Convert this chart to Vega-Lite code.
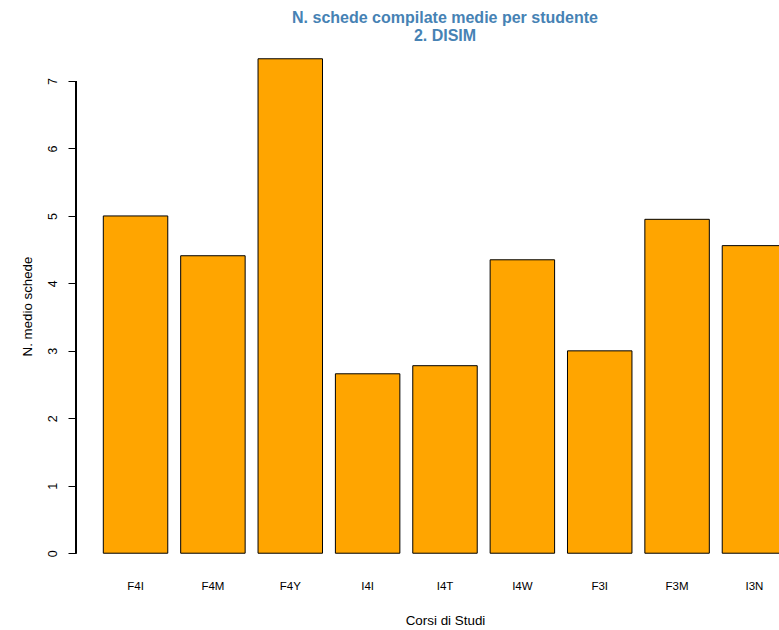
{
  "$schema": "https://vega.github.io/schema/vega-lite/v6.json",
  "width": 703,
  "height": 534,
  "autosize": {"type": "none"},
  "padding": {"left": 76, "top": 39, "right": 0, "bottom": 57},
  "background": "white",
  "view": {"stroke": null},
  "config": {
    "font": "Liberation Sans",
    "axis": {"labelFont": "Liberation Sans", "titleFont": "Liberation Sans", "labelColor": "black", "titleColor": "black", "titleFontWeight": "normal", "grid": false}
  },
  "title": {
    "text": ["N. schede compilate medie per studente", "2. DISIM"],
    "font": "Liberation Sans",
    "fontSize": 16,
    "fontWeight": "bold",
    "color": "#4682B4",
    "anchor": "middle",
    "lineHeight": 18.5,
    "baseline": "bottom",
    "offset": -21,
    "dx": 17.5
  },
  "data": {
    "values": [
      {"corso": "F4I", "media": 5.00},
      {"corso": "F4M", "media": 4.41},
      {"corso": "F4Y", "media": 7.33},
      {"corso": "I4I", "media": 2.66},
      {"corso": "I4T", "media": 2.78},
      {"corso": "I4W", "media": 4.35},
      {"corso": "F3I", "media": 3.00},
      {"corso": "F3M", "media": 4.95},
      {"corso": "I3N", "media": 4.56}
    ]
  },
  "layer": [
    {
      "mark": {"type": "bar", "color": "#FFA500", "stroke": "black", "strokeWidth": 1, "clip": true},
      "encoding": {
        "x": {
          "field": "corso",
          "type": "nominal",
          "sort": null,
          "scale": {"range": [0, 738], "paddingInner": 0.1667, "paddingOuter": 0.353},
          "axis": {
            "title": "Corsi di Studi",
            "titleFontSize": 13.4,
            "titleBaseline": "middle",
            "titleY": 47,
            "labelFontSize": 11.5,
            "labelAngle": 0,
            "labelBaseline": "middle",
            "labelPadding": 13,
            "ticks": false,
            "tickSize": 0,
            "domain": false
          }
        },
        "y": {
          "field": "media",
          "type": "quantitative",
          "scale": {"domain": [-0.2932, 7.6232], "nice": false, "zero": false},
          "axis": {
            "title": "N. medio schede",
            "titleFontSize": 13.3,
            "titleAngle": 270,
            "titleAlign": "center",
            "titleBaseline": "middle",
            "titleX": -49,
            "values": [0, 1, 2, 3, 4, 5, 6, 7],
            "format": "d",
            "labelFontSize": 12.5,
            "labelAngle": 270,
            "labelAlign": "center",
            "labelBaseline": "alphabetic",
            "labelPadding": 12,
            "tickSize": 8,
            "tickColor": "black",
            "domain": false
          }
        },
        "y2": {"datum": 0}
      }
    },
    {
      "mark": {"type": "rule", "color": "black", "strokeWidth": 1},
      "encoding": {
        "x": {"value": 0},
        "y": {"datum": 0},
        "y2": {"datum": 7}
      }
    }
  ]
}
